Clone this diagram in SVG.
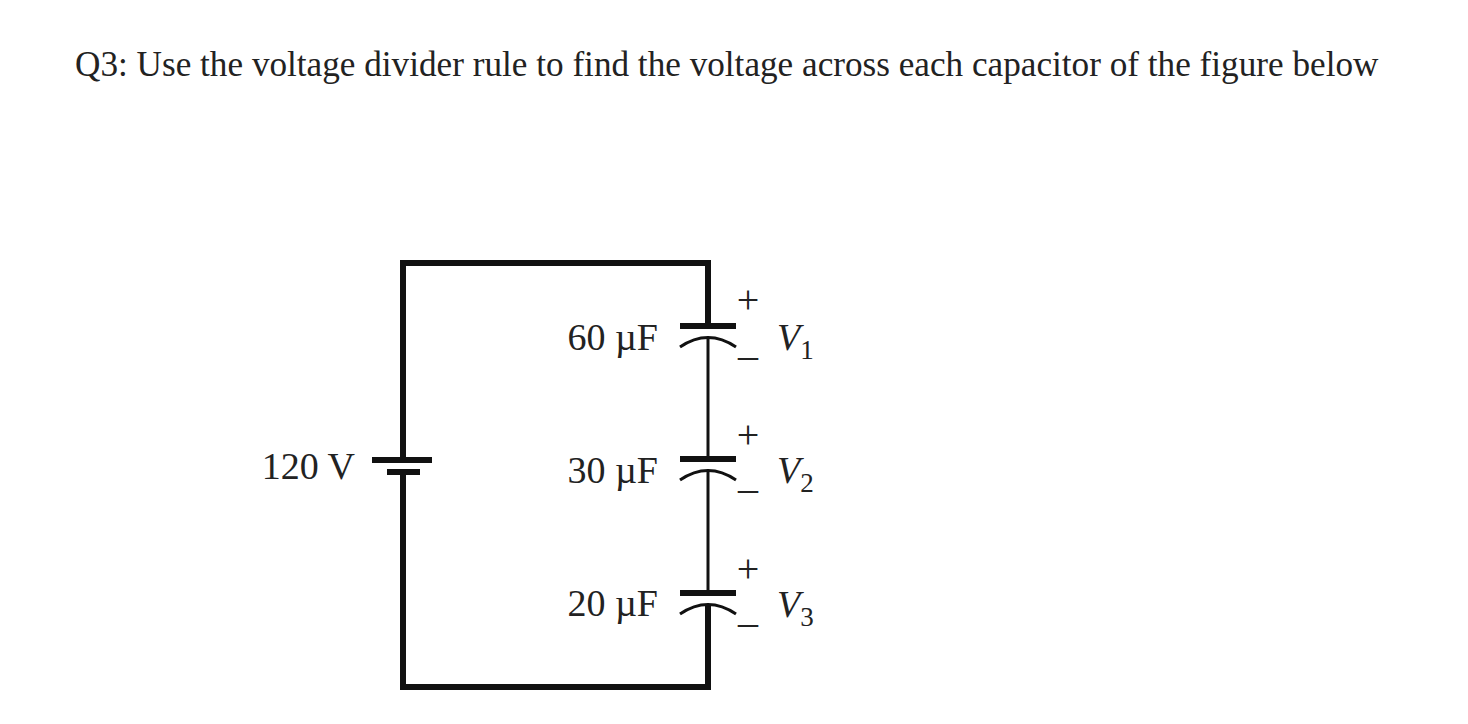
<svg xmlns="http://www.w3.org/2000/svg" width="1468" height="724" viewBox="0 0 1468 724">
<style>
text{font-family:"Liberation Serif",serif;fill:#222}
.w{stroke:#111;fill:none;stroke-width:6}
.t{stroke:#111;fill:none;stroke-width:3}
.lab{font-size:38px}
.pm{font-size:40px}
.v{font-size:38px;font-style:italic}
.s{font-size:27px;font-style:normal}
</style>
<rect width="1468" height="724" fill="#fff"/>
<text x="75" y="76" font-size="35.2">Q3: Use the voltage divider rule to find the voltage across each capacitor of the figure below</text>
<g id="wires">
<polyline class="w" points="403,460 403,263 708,263 708,326"/>
<polyline class="w" points="403,472 403,687 708,687 708,604"/>
<line class="t" x1="708" y1="337" x2="708" y2="459"/>
<line class="t" x1="708" y1="470" x2="708" y2="593"/>
</g>
<g id="battery">
<line class="w" x1="372" y1="460" x2="432" y2="460"/>
<line class="w" x1="387" y1="472" x2="420" y2="472"/>
<text class="lab" x="355" y="479" text-anchor="end">120 V</text>
</g>
<g id="c1">
<line class="w" x1="680" y1="326" x2="736" y2="326"/>
<path class="t" d="M680,347 Q708,328 736,347"/>
<text class="lab" x="658" y="350" text-anchor="end">60 µF</text>
<text class="pm" x="748" y="313" text-anchor="middle">+</text>
<text class="pm" x="748" y="368" text-anchor="middle">–</text>
<text class="v" x="777" y="350">V<tspan class="s" dy="9">1</tspan></text>
</g>
<g id="c2">
<line class="w" x1="680" y1="459" x2="736" y2="459"/>
<path class="t" d="M680,480 Q708,461 736,480"/>
<text class="lab" x="658" y="483" text-anchor="end">30 µF</text>
<text class="pm" x="748" y="448" text-anchor="middle">+</text>
<text class="pm" x="748" y="501" text-anchor="middle">–</text>
<text class="v" x="777" y="483">V<tspan class="s" dy="9">2</tspan></text>
</g>
<g id="c3">
<line class="w" x1="680" y1="593" x2="736" y2="593"/>
<path class="t" d="M680,614 Q708,595 736,614"/>
<text class="lab" x="658" y="616" text-anchor="end">20 µF</text>
<text class="pm" x="748" y="582" text-anchor="middle">+</text>
<text class="pm" x="748" y="635" text-anchor="middle">–</text>
<text class="v" x="777" y="617">V<tspan class="s" dy="9">3</tspan></text>
</g>
</svg>
